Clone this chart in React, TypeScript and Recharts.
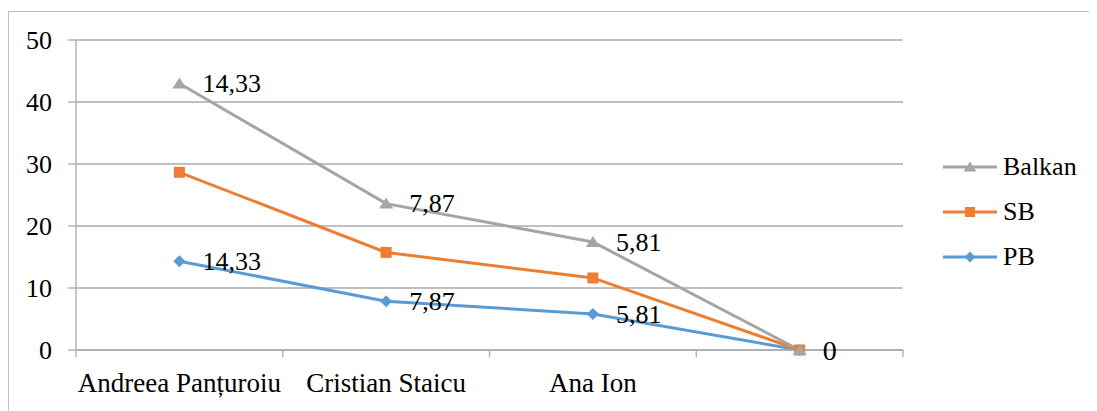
import React from 'react';
import { LineChart, Line, XAxis, YAxis, CartesianGrid, Legend, LabelList } from 'recharts';

// values (each series is stacked on the one below it)
const categories = ['Andreea Panțuroiu', 'Cristian Staicu', 'Ana Ion', ''];
const pbValues = [14.33, 7.87, 5.81, 0];
const sbValues = [14.33, 7.87, 5.81, 0];
const balkanValues = [14.33, 7.87, 5.81, 0];
const yTicks = [0, 10, 20, 30, 40, 50];

const FONT = "'Liberation Serif', 'Times New Roman', serif";
const GRID = '#ababab';
const COLORS = { Balkan: '#a5a5a5', SB: '#ed7d31', PB: '#5b9bd5' };

const data = categories.map((name, i) => ({
  name,
  x: i + 0.5,
  pb: pbValues[i],
  sb: pbValues[i] + sbValues[i],
  balkan: pbValues[i] + sbValues[i] + balkanValues[i],
  pbLabel: pbValues[i],
  balkanLabel: balkanValues[i],
}));

// boundary ticks at integers, names at the half steps
const xTicks = categories.flatMap((_, i) => [i, i + 0.5]).concat(categories.length);

const fmt = (v: number) => String(v).replace('.', ',');

const Marker = ({ shape, cx, cy, color, size = 12 }: any) => {
  const h = size / 2;
  if (shape === 'triangle') {
    return <polygon points={`${cx},${cy - h} ${cx + h + 1},${cy + h - 1} ${cx - h - 1},${cy + h - 1}`} fill={color} />;
  }
  if (shape === 'square') {
    return <rect x={cx - h + 0.5} y={cy - h + 0.5} width={size - 1} height={size - 1} fill={color} />;
  }
  return <polygon points={`${cx},${cy - h} ${cx + h},${cy} ${cx},${cy + h} ${cx - h},${cy}`} fill={color} />;
};

const makeDot = (shape: string, color: string) => (props: any) => (
  <Marker key={`${shape}-${props.index}`} shape={shape} cx={props.cx} cy={props.cy} color={color} />
);

const XTick = ({ x, y, payload }: any) => {
  const v = payload.value;
  if (Number.isInteger(v)) {
    return <line x1={x} x2={x} y1={y} y2={y + 7} stroke={GRID} strokeWidth={1.3} />;
  }
  return (
    <text x={x} y={y + 42} textAnchor="middle" fontSize={27} style={{ fontFamily: FONT }} fill="#000">
      {categories[Math.floor(v)]}
    </text>
  );
};

const makeLabel = (showLast: boolean) => (props: any) => {
  const { x, y, value, index } = props;
  const last = index === categories.length - 1;
  if (last && !showLast) return null;
  const size = last ? 28 : 26;
  return (
    <text key={index} x={x + 23} y={y + size * 0.34} fontSize={size} style={{ fontFamily: FONT }} fill="#000">
      {fmt(value)}
    </text>
  );
};

const legendItems = [
  { name: 'Balkan', shape: 'triangle', color: COLORS.Balkan },
  { name: 'SB', shape: 'square', color: COLORS.SB },
  { name: 'PB', shape: 'diamond', color: COLORS.PB },
];

const LegendBox = () => (
  <div>
    {legendItems.map((it) => (
      <div key={it.name} style={{ height: 45, display: 'flex', alignItems: 'center' }}>
        <svg width={54} height={20}>
          <line x1={0} x2={54} y1={10} y2={10} stroke={it.color} strokeWidth={3} />
          <Marker shape={it.shape} cx={27} cy={10} color={it.color} size={11} />
        </svg>
        <span style={{ marginLeft: 6, fontSize: 26, fontFamily: FONT, color: '#000', lineHeight: '26px' }}>{it.name}</span>
      </div>
    ))}
  </div>
);

export default function App() {
  return (
    <div style={{ paddingTop: 3 }}>
      <div
        style={{
          width: 1089,
          height: 400,
          borderTop: '1px solid #c0c0c0',
          borderLeft: '1px solid #c0c0c0',
        }}
      >
        <LineChart width={1088} height={399} data={data} margin={{ top: 28, right: 194, bottom: 0, left: 0 }}>
          <CartesianGrid vertical={false} stroke={GRID} strokeWidth={1.3} />
          <XAxis
            dataKey="x"
            type="number"
            domain={[0, categories.length]}
            ticks={xTicks}
            interval={0}
            tickSize={0}
            tickMargin={0}
            tickLine={false}
            height={61}
            axisLine={{ stroke: GRID, strokeWidth: 1.3 }}
            tick={<XTick />}
          />
          <YAxis
            domain={[0, 50]}
            ticks={yTicks}
            width={67}
            tickSize={8}
            tickMargin={16}
            tickLine={{ stroke: GRID, strokeWidth: 1.3 }}
            axisLine={{ stroke: GRID, strokeWidth: 1.3 }}
            tick={{ fontSize: 26, fill: '#000', style: { fontFamily: FONT } }}
          />
          <Legend
            layout="horizontal"
            verticalAlign="middle"
            align="center"
            wrapperStyle={{ left: 934, top: 132, width: 150 }}
            content={<LegendBox />}
          />
          <Line
            dataKey="pb"
            stroke={COLORS.PB}
            strokeWidth={3}
            dot={makeDot('diamond', COLORS.PB)}
            isAnimationActive={false}
          >
            <LabelList dataKey="pbLabel" content={makeLabel(true)} />
          </Line>
          <Line
            dataKey="sb"
            stroke={COLORS.SB}
            strokeWidth={3}
            dot={makeDot('square', COLORS.SB)}
            isAnimationActive={false}
          />
          <Line
            dataKey="balkan"
            stroke={COLORS.Balkan}
            strokeWidth={3}
            dot={makeDot('triangle', COLORS.Balkan)}
            isAnimationActive={false}
          >
            <LabelList dataKey="balkanLabel" content={makeLabel(false)} />
          </Line>
        </LineChart>
      </div>
    </div>
  );
}
